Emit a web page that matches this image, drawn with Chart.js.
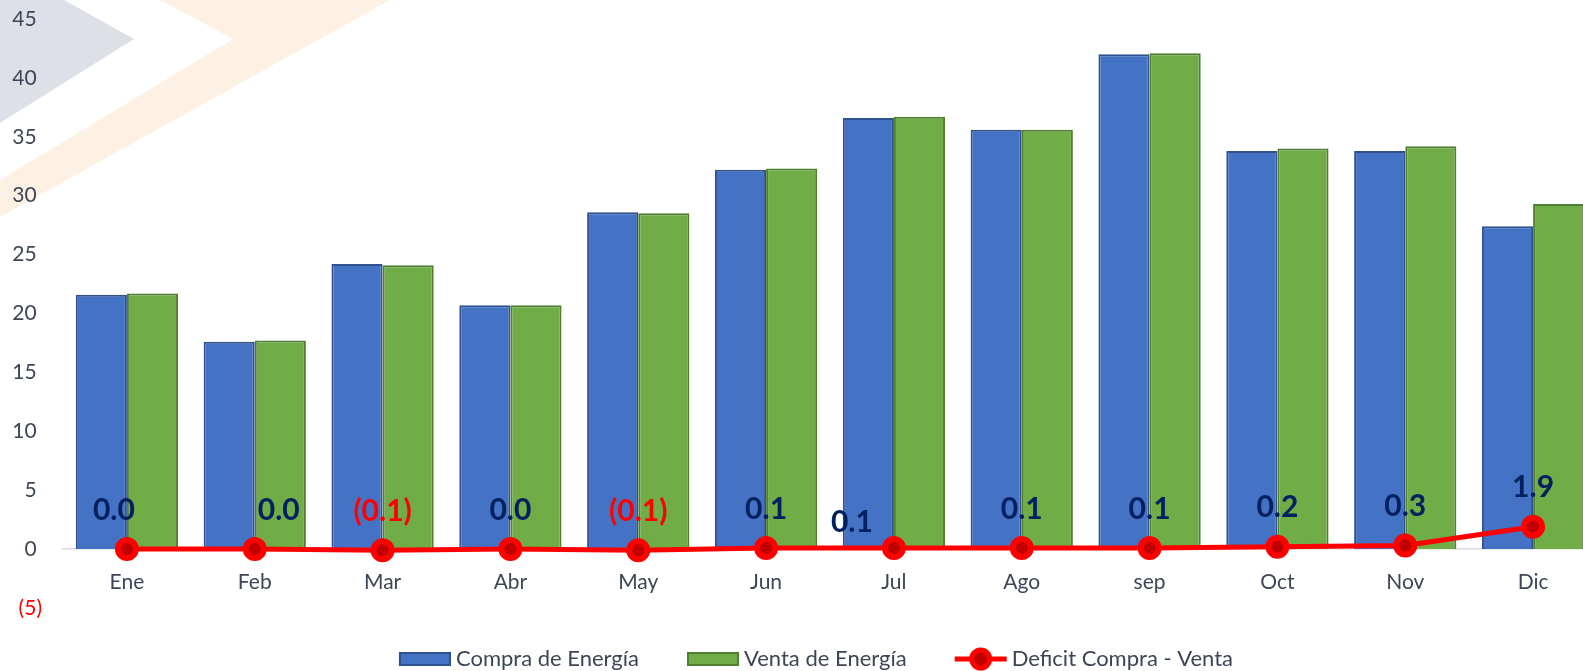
<!DOCTYPE html>
<html>
<head>
<meta charset="utf-8">
<script src="https://cdn.jsdelivr.net/npm/chart.js@4.4.1/dist/chart.umd.min.js"></script>
<style>
  html, body { margin: 0; padding: 0; background: #fff; overflow: hidden; }
  /* el area del grafico sigue un poco mas alla del borde derecho, como en el original */
  #wrap { width: 1597px; height: 671px; }
  canvas { display: block; }
</style>
</head>
<body>
<div id="wrap"><canvas id="energiaChart"></canvas></div>
<script>
// datos
const meses = ['Ene', 'Feb', 'Mar', 'Abr', 'May', 'Jun', 'Jul', 'Ago', 'sep', 'Oct', 'Nov', 'Dic'];
const compra = [21.6, 17.6, 24.2, 20.7, 28.6, 32.2, 36.6, 35.6, 42.0, 33.8, 33.8, 27.4];
const venta = [21.7, 17.7, 24.1, 20.7, 28.5, 32.3, 36.7, 35.6, 42.1, 34.0, 34.2, 29.3];
const deficit = [0.0, 0.0, -0.1, 0.0, -0.1, 0.1, 0.1, 0.1, 0.1, 0.2, 0.3, 1.9];
const yTicks = [-5, 0, 5, 10, 15, 20, 25, 30, 35, 40, 45];

// pequenos ajustes de posicion de las etiquetas (como en el original)
const labelNudgeX = [-13, 24, 0, 0, 0, 0, -42, 0, 0, 0, 0, 0];
const labelNudgeY = [0, 0, 0, 0, 0, 0, 13, 0, 0, 0, 0, 0];

const FONT = 'Lato, "Open Sans", sans-serif';
const TEXT = '#3d4656';

function fmt(v) {
    return v < 0 ? '(' + Math.abs(v).toFixed(1) + ')' : v.toFixed(1);
}

// fondo decorativo
const fondo = {
    id: 'fondo',
    beforeDraw(chart) {
        const ctx = chart.ctx;
        ctx.save();
        ctx.fillStyle = '#ffffff';
        ctx.fillRect(0, 0, chart.width, chart.height);
        ctx.fillStyle = '#dde0e7';
        ctx.beginPath();
        ctx.moveTo(0, 0); ctx.lineTo(64, 0); ctx.lineTo(134, 39); ctx.lineTo(0, 123);
        ctx.closePath(); ctx.fill();
        ctx.fillStyle = '#fdf1e3';
        ctx.beginPath();
        ctx.moveTo(160, 0); ctx.lineTo(390, 0); ctx.lineTo(0, 217); ctx.lineTo(0, 180); ctx.lineTo(233, 39);
        ctx.closePath(); ctx.fill();
        ctx.restore();
    }
};

// etiquetas de la linea de deficit
const etiquetas = {
    id: 'etiquetas',
    afterDatasetsDraw(chart) {
        const ctx = chart.ctx;
        const meta = chart.getDatasetMeta(2);
        ctx.save();
        ctx.font = 'bold 30px ' + FONT;
        ctx.textAlign = 'center';
        ctx.textBaseline = 'middle';
        meta.data.forEach((pt, i) => {
            const v = deficit[i];
            ctx.fillStyle = v < 0 ? '#ff0000' : '#002060';
            ctx.fillText(fmt(v), pt.x + labelNudgeX[i], pt.y - 39 + labelNudgeY[i]);
        });
        ctx.restore();
    }
};

// leyenda dibujada a mano para imitar la de Excel
const leyenda = {
    id: 'leyenda',
    afterDraw(chart) {
        const ctx = chart.ctx;
        const items = chart.data.datasets;
        const boxW = 52, gap = 5, spacing = 48, cy = 659;
        ctx.save();
        ctx.font = '22px ' + FONT;
        ctx.textBaseline = 'middle';
        let total = 0;
        items.forEach((d, i) => {
            total += boxW + gap + ctx.measureText(d.label).width + (i < items.length - 1 ? spacing : 0);
        });
        let x = (chart.chartArea.left + chart.chartArea.right) / 2 - total / 2 - 14;
        items.forEach((d) => {
            if (d.type === 'line') {
                ctx.strokeStyle = d.borderColor;
                ctx.lineWidth = 5;
                ctx.beginPath(); ctx.moveTo(x, cy); ctx.lineTo(x + boxW, cy); ctx.stroke();
                ctx.beginPath(); ctx.arc(x + boxW / 2, cy, 9, 0, Math.PI * 2);
                ctx.fillStyle = d.pointBackgroundColor; ctx.fill();
                ctx.lineWidth = 5; ctx.strokeStyle = d.pointBorderColor; ctx.stroke();
            } else {
                ctx.fillStyle = d.backgroundColor;
                ctx.fillRect(x, cy - 7, boxW, 14);
                ctx.strokeStyle = d.borderColor;
                ctx.lineWidth = 2;
                ctx.strokeRect(x + 1, cy - 6, boxW - 2, 12);
            }
            x += boxW + gap;
            ctx.fillStyle = TEXT;
            ctx.fillText(d.label, x, cy);
            x += ctx.measureText(d.label).width + spacing;
        });
        ctx.restore();
    }
};

new Chart(document.getElementById('energiaChart'), {
    data: {
        labels: meses,
        datasets: [{
            type: 'bar',
            label: 'Compra de Energía',
            data: compra,
            backgroundColor: '#4472c4',
            borderColor: '#2f528f',
            borderWidth: 2,
            order: 1
        }, {
            type: 'bar',
            label: 'Venta de Energía',
            data: venta,
            backgroundColor: '#70ad47',
            borderColor: '#507e32',
            borderWidth: 2,
            order: 1
        }, {
            type: 'line',
            label: 'Deficit Compra - Venta',
            data: deficit,
            borderColor: '#ff0000',
            borderWidth: 5,
            pointRadius: 9,
            pointHoverRadius: 9,
            pointBackgroundColor: '#c00000',
            pointBorderColor: '#ff0000',
            pointBorderWidth: 6,
            tension: 0,
            order: 0
        }]
    },
    options: {
        responsive: true,
        maintainAspectRatio: false,
        animation: false,
        layout: { autoPadding: false, padding: { top: 19, right: 0, bottom: 63, left: 0 } },
        datasets: {
            bar: { categoryPercentage: 0.8, barPercentage: 1.0 }
        },
        scales: {
            x: {
                position: { y: 0 },
                grid: { display: false, drawTicks: false },
                border: { display: true, color: '#d9d9d9', width: 1.5 },
                ticks: { color: TEXT, font: { family: FONT, size: 21 }, padding: 21 }
            },
            y: {
                min: -5,
                max: 45,
                afterBuildTicks: (s) => { s.ticks = yTicks.map(v => ({ value: v })); },
                afterFit: (s) => {
                    s.width = 63;
                    s.paddingTop = 0;
                    s.paddingBottom = 0;
                },
                grid: { display: false, drawTicks: false },
                border: { display: false },
                ticks: {
                    padding: 21,
                    font: { family: FONT, size: 21 },
                    color: (c) => c.tick && c.tick.value < 0 ? '#ff0000' : TEXT,
                    callback: (v) => v < 0 ? '(' + Math.abs(v) + ')' : v + ' '
                }
            }
        },
        plugins: {
            legend: { display: false },
            tooltip: { enabled: true }
        }
    },
    plugins: [fondo, etiquetas, leyenda]
});
</script>
</body>
</html>
